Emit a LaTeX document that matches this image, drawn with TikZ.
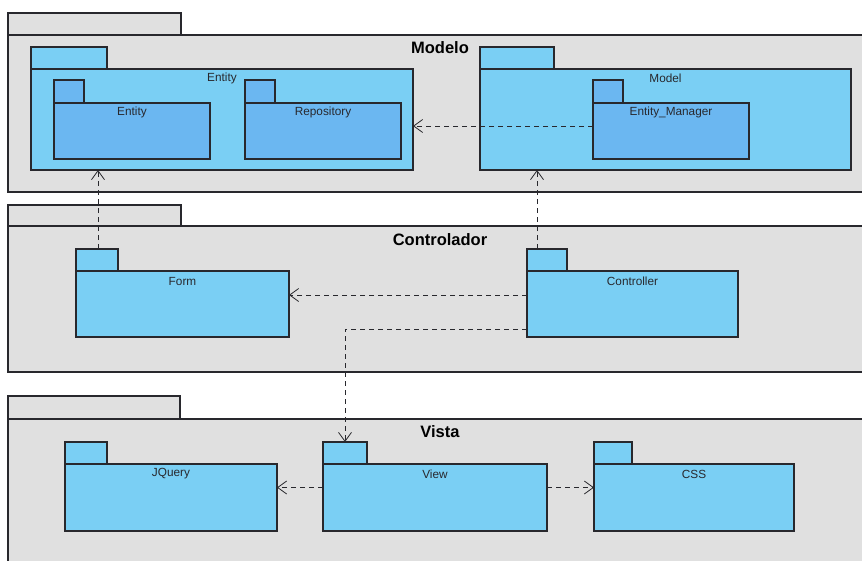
\documentclass[tikz,border=0pt]{standalone}
\usepackage{fontspec}
\setmainfont{Liberation Sans}
\usetikzlibrary{arrows.meta,calc}
\definecolor{pkgGray}{RGB}{224,224,224}
\definecolor{pkgBlue}{RGB}{122,207,244}
\definecolor{pkgDeep}{RGB}{107,183,241}
\definecolor{pkgLine}{RGB}{40,40,45}
\definecolor{lblText}{RGB}{40,40,45}
\newcommand\umlpkg[8]{%
  \node[pkgbox, fill=#8, minimum width=#6, minimum height=#7] (#1tab) at (#2,{#3-#7}) {};
  \node[pkgbox, fill=#8, minimum width=#4, minimum height=#5] (#1) at (#2,#3) {};
}
\begin{document}
\begin{tikzpicture}[x=1pt,y=-1pt,
  pkgbox/.style={draw=pkgLine, line width=1.1pt, inner sep=0pt, outer sep=0pt, anchor=north west},
  lbl/.style={font=\fontsize{11.8}{13}\selectfont, text=lblText, inner sep=0pt},
  ttl/.style={font=\bfseries\fontsize{16.5}{19}\selectfont, text=black, inner sep=0pt},
  dep/.style={draw=pkgLine, line width=0.8pt, dash pattern=on 5pt off 4pt,
    -{Straight Barb[length=9pt,width=13pt,line width=0.8pt]}}]
\useasboundingbox (0,0) rectangle (862,560);
% Modelo
\umlpkg{modelo}{8}{35}{858}{157}{173}{22}{pkgGray}
\node[ttl] (modeloLbl) at (440,48) {Modelo};
\umlpkg{entpkg}{31}{69}{382}{101}{76}{22}{pkgBlue}
\node[lbl] (entpkgLbl) at ($(entpkg.north)+(0,9)$) {Entity};
\umlpkg{ent}{54}{103}{156}{56}{30}{23}{pkgDeep}
\node[lbl] (entLbl) at ($(ent.north)+(0,9)$) {Entity};
\umlpkg{repo}{245}{103}{156}{56}{30}{23}{pkgDeep}
\node[lbl] (repoLbl) at ($(repo.north)+(0,9)$) {Repository};
\umlpkg{model}{480}{69}{371}{101}{74}{22}{pkgBlue}
\node[lbl] (modelLbl) at ($(model.north)+(0,9)$) {Model};
\umlpkg{em}{593}{103}{156}{56}{30}{23}{pkgDeep}
\node[lbl] (emLbl) at ($(em.north)+(0,9)$) {Entity\_Manager};
% Controlador
\umlpkg{ctrlpkg}{8}{226}{858}{146}{173}{21}{pkgGray}
\node[ttl] (ctrlpkgLbl) at (440,240) {Controlador};
\umlpkg{form}{76}{271}{213}{66}{42}{22}{pkgBlue}
\node[lbl] (formLbl) at ($(form.north)+(0,10)$) {Form};
\umlpkg{ctrl}{527}{271}{211}{66}{40}{22}{pkgBlue}
\node[lbl] (ctrlLbl) at ($(ctrl.north)+(0,10)$) {Controller};
% Vista
\umlpkg{vista}{8}{419}{858}{145}{172}{23}{pkgGray}
\node[ttl] (vistaLbl) at (440,432) {Vista};
\umlpkg{jq}{65}{464}{212}{67}{42}{22}{pkgBlue}
\node[lbl] (jqLbl) at ($(jq.north)+(0,10)$) {JQuery};
\umlpkg{view}{323}{464}{224}{67}{44}{22}{pkgBlue}
\node[lbl] (viewLbl) at ($(view.north)+(0,10)$) {View};
\umlpkg{css}{594}{464}{200}{67}{38}{22}{pkgBlue}
\node[lbl] (cssLbl) at ($(css.north)+(0,10)$) {CSS};
% connectors
\coordinate (emOut) at ([yshift=5pt]em.west);
\draw[dep] (emOut) -- (emOut -| entpkg.east);
\coordinate (formOut) at ([xshift=1pt]formtab.north);
\draw[dep] (formOut) -- (formOut |- entpkg.south);
\coordinate (ctrlUp) at ([xshift=-10pt]ctrltab.north);
\draw[dep] (ctrlUp) -- (ctrlUp |- model.south);
\coordinate (ctrlForm) at ([yshift=9pt]ctrl.west);
\draw[dep] (ctrlForm) -- (ctrlForm -| form.east);
\coordinate (ctrlView) at ([yshift=-25pt]ctrl.west);
\draw[dep] (ctrlView) -| (viewtab.north);
\coordinate (viewJq) at ([yshift=10pt]view.west);
\draw[dep] (viewJq) -- (viewJq -| jq.east);
\coordinate (viewCss) at ([yshift=10pt]view.east);
\draw[dep] (viewCss) -- (viewCss -| css.west);
\end{tikzpicture}
\end{document}
